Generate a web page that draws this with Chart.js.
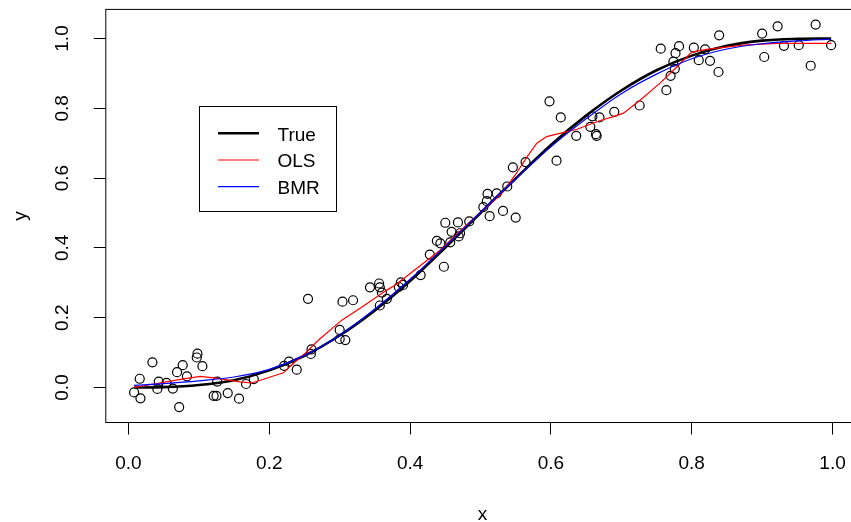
<!DOCTYPE html>
<html><head><meta charset="utf-8">
<script src="https://cdn.jsdelivr.net/npm/chart.js@4/dist/chart.umd.min.js"></script>
<style>html,body{margin:0;padding:0;background:#fff;overflow:hidden;width:851px;height:522px}canvas{display:block}</style>
</head><body>
<canvas id="c" width="860" height="522"></canvas>
<script>
// ---- data ----
const pointX = [0.008,0.016,0.017,0.034,0.043,0.041,0.054,0.063,0.069,0.077,0.083,0.072,0.098,0.097,0.105,0.126,0.121,0.125,0.141,0.157,0.167,0.178,0.221,0.228,0.239,0.260,0.259,0.300,0.300,0.308,0.255,0.304,0.319,0.343,0.356,0.357,0.360,0.367,0.357,0.384,0.387,0.390,0.415,0.428,0.438,0.443,0.448,0.450,0.457,0.459,0.468,0.471,0.469,0.484,0.504,0.510,0.513,0.509,0.523,0.532,0.550,0.538,0.546,0.564,0.608,0.598,0.614,0.636,0.659,0.669,0.656,0.664,0.665,0.690,0.726,0.764,0.770,0.774,0.776,0.777,0.756,0.782,0.803,0.819,0.810,0.826,0.839,0.838,0.900,0.903,0.922,0.931,0.952,0.976,0.969,0.998];
const pointY = [-0.014,0.025,-0.031,0.072,0.017,-0.004,0.013,-0.003,0.044,0.064,0.032,-0.056,0.097,0.086,0.061,0.017,-0.024,-0.024,-0.016,-0.032,0.010,0.024,0.062,0.074,0.051,0.109,0.096,0.165,0.139,0.136,0.254,0.246,0.250,0.287,0.298,0.287,0.272,0.254,0.235,0.288,0.301,0.294,0.322,0.381,0.420,0.413,0.346,0.472,0.416,0.446,0.473,0.442,0.433,0.476,0.517,0.555,0.491,0.534,0.556,0.506,0.487,0.576,0.631,0.646,0.650,0.820,0.774,0.721,0.777,0.774,0.747,0.726,0.721,0.790,0.808,0.852,0.893,0.934,0.913,0.958,0.971,0.978,0.974,0.969,0.938,0.936,1.009,0.904,1.014,0.947,1.035,0.979,0.981,1.040,0.922,0.981];

const trueX = [0.008,0.05,0.1,0.15,0.2,0.25,0.3,0.35,0.4,0.45,0.5,0.55,0.6,0.65,0.7,0.75,0.8,0.85,0.9,0.95,0.998];
const trueY = [0.000,0.001,0.007,0.021,0.049,0.091,0.149,0.221,0.305,0.401,0.500,0.599,0.695,0.779,0.851,0.909,0.951,0.979,0.994,0.999,1.000];

const olsX = [0.008,0.076,0.102,0.127,0.158,0.175,0.220,0.232,0.251,0.270,0.303,0.329,0.367,0.379,0.443,0.480,0.528,0.537,0.551,0.566,0.580,0.594,0.608,0.637,0.670,0.689,0.703,0.727,0.755,0.779,0.800,0.821,0.873,0.921,0.998];
const olsY = [0.000,0.024,0.032,0.026,0.016,0.013,0.042,0.065,0.098,0.136,0.193,0.227,0.279,0.294,0.394,0.466,0.552,0.575,0.614,0.661,0.700,0.719,0.726,0.740,0.765,0.776,0.786,0.824,0.872,0.919,0.961,0.969,0.981,0.986,0.986];

const bmrX = [0.008,0.05,0.1,0.15,0.2,0.25,0.3,0.35,0.4,0.45,0.5,0.55,0.6,0.65,0.7,0.75,0.8,0.85,0.9,0.95,0.998];
const bmrY = [0.006,0.011,0.019,0.030,0.052,0.092,0.150,0.225,0.310,0.405,0.502,0.598,0.690,0.770,0.842,0.898,0.942,0.970,0.985,0.993,0.998];

const xTicks = [0, 0.2, 0.4, 0.6, 0.8, 1.0];
const xTickLabels = ["0.0","0.2","0.4","0.6","0.8","1.0"];
const yTicks = [0, 0.2, 0.4, 0.6, 0.8, 1.0];
const yTickLabels = ["0.0","0.2","0.4","0.6","0.8","1.0"];
const seriesNames = ["True","OLS","BMR"];

// ---- styling ----
const FONT = "'Liberation Sans', Arial, Helvetica, sans-serif";
const FS = 19;
const colors = {True:'#000000', OLS:'#FF0000', BMR:'#0000FF'};
const widths = {True:2.6, OLS:1.2, BMR:1.2};
const zip = (xs, ys) => xs.map((x, i) => ({x: x, y: ys[i]}));

const framePlugin = {
  id: 'frame',
  beforeDatasetsDraw(chart) {
    const {ctx, chartArea: a} = chart;
    ctx.save();
    ctx.strokeStyle = '#000';
    ctx.lineWidth = 1;
    ctx.strokeRect(a.left, a.top, a.right - a.left, a.bottom - a.top);
    ctx.restore();
  },
  afterDraw(chart) {
    const ctx = chart.ctx;
    ctx.save();
    ctx.strokeStyle = '#000';
    ctx.lineWidth = 1;
    ctx.strokeRect(199.5, 106.5, 137, 105);
    const rows = [133.3, 160, 186.7];
    seriesNames.forEach((name, i) => {
      ctx.beginPath();
      ctx.strokeStyle = colors[name];
      ctx.lineWidth = widths[name];
      ctx.moveTo(218, rows[i]);
      ctx.lineTo(259, rows[i]);
      ctx.stroke();
      ctx.fillStyle = '#000';
      ctx.font = FS + 'px ' + FONT;
      ctx.textBaseline = 'alphabetic';
      ctx.textAlign = 'left';
      ctx.fillText(name, 277.5, rows[i] + 7.3);
    });
    ctx.restore();
  }
};

const lineDs = (name, xs, ys, smooth) => ({
  label: name,
  data: zip(xs, ys),
  showLine: true,
  borderColor: colors[name],
  backgroundColor: colors[name],
  borderWidth: widths[name],
  pointRadius: 0,
  pointHoverRadius: 0,
  fill: false,
  tension: 0,
  cubicInterpolationMode: smooth ? 'monotone' : 'default'
});

const noPad = s => { s.paddingTop = 0; s.paddingBottom = 0; s.paddingLeft = 0; s.paddingRight = 0; };

new Chart(document.getElementById('c'), {
  type: 'scatter',
  data: {
    datasets: [
      lineDs('BMR', bmrX, bmrY, true),
      lineDs('OLS', olsX, olsY, false),
      lineDs('True', trueX, trueY, true),
      {
        label: 'data',
        data: zip(pointX, pointY),
        pointStyle: 'circle',
        pointRadius: 4.5,
        pointHoverRadius: 4.5,
        pointBorderWidth: 1.2,
        borderColor: '#000',
        backgroundColor: 'rgba(0,0,0,0)',
        showLine: false
      }
    ]
  },
  options: {
    responsive: false,
    animation: false,
    events: [],
    layout: {autoPadding: false, padding: {left: 0, right: 1, top: 9.4, bottom: 0}},
    plugins: {legend: {display: false}, tooltip: {enabled: false}},
    scales: {
      x: {
        type: 'linear',
        min: -0.0322,
        max: 1.0376,
        afterBuildTicks: s => { s.ticks = xTicks.map(v => ({value: v})); },
        afterFit: s => { s.height = 99.5; noPad(s); },
        grid: {display: true, drawOnChartArea: false, drawTicks: true, tickLength: 12, color: '#000', lineWidth: 1},
        border: {display: false},
        ticks: {
          autoSkip: false, maxRotation: 0, minRotation: 0, padding: 18, color: '#000',
          font: {family: FONT, size: FS},
          callback: v => xTickLabels[xTicks.indexOf(v)]
        },
        title: {display: true, text: 'x', color: '#000', font: {family: FONT, size: FS}, padding: {top: 0, bottom: -4.4}}
      },
      y: {
        type: 'linear',
        min: -0.1003,
        max: 1.0834,
        afterBuildTicks: s => { s.ticks = yTicks.map(v => ({value: v})); },
        afterFit: s => { s.width = 105.8; noPad(s); },
        grid: {display: true, drawOnChartArea: false, drawTicks: true, tickLength: 12, color: '#000', lineWidth: 1},
        border: {display: false},
        ticks: {
          autoSkip: false, minRotation: 90, maxRotation: 90, padding: 18, crossAlign: 'center', color: '#000',
          font: {family: FONT, size: FS},
          callback: v => yTickLabels[yTicks.indexOf(v)]
        },
        title: {display: true, text: 'y', color: '#000', font: {family: FONT, size: FS}, padding: {top: 9, bottom: 0}}
      }
    }
  },
  plugins: [framePlugin]
});
</script>
</body></html>
